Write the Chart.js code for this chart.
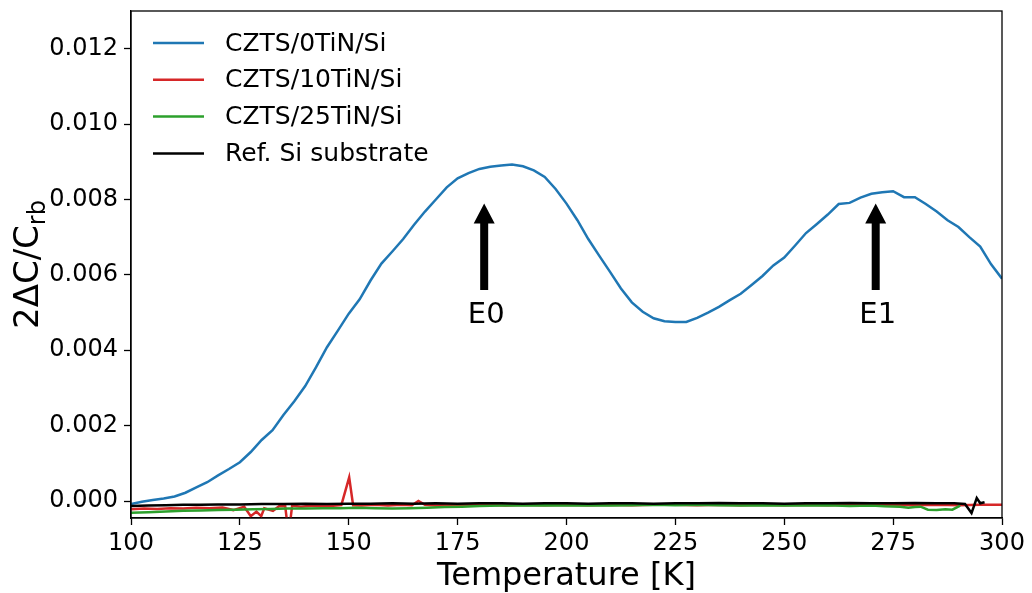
<!DOCTYPE html>
<html>
<head>
<meta charset="utf-8">
<script src="https://cdn.jsdelivr.net/npm/chart.js@4/dist/chart.umd.min.js"></script>
<style>
  html, body { margin: 0; padding: 0; background: #ffffff; }
  canvas { display: block; }
</style>
</head>
<body>
<canvas id="chart" width="1032" height="593"></canvas>
<script>
// Temperature grid (K) and 2ΔC/C_rb signal for the CZTS/0TiN/Si sample
const tempMain = [
  100, 102.5, 105, 107.5, 110, 112.5, 115, 117.5, 120, 122.5,
  125, 127.5, 130, 132.5, 135, 137.5, 140, 142.5, 145, 147.5,
  150, 152.5, 155, 157.5, 160, 162.5, 165, 167.5, 170, 172.5,
  175, 177.5, 180, 182.5, 185, 187.5, 190, 192.5, 195, 197.5,
  200, 202.5, 205, 207.5, 210, 212.5, 215, 217.5, 220, 222.5,
  225, 227.5, 230, 232.5, 235, 237.5, 240, 242.5, 245, 247.5,
  250, 252.5, 255, 257.5, 260, 262.5, 265, 267.5, 270, 272.5,
  275, 277.5, 280, 282.5, 285, 287.5, 290, 292.5, 295, 297.5, 300
];
const tin0 = [
  -0.00008, -0.00002, 0.00003, 0.00007, 0.00012, 0.00022, 0.00036, 0.00050, 0.00068, 0.00085,
  0.00103, 0.00130, 0.00162, 0.00188, 0.00228, 0.00265, 0.00305, 0.00355, 0.00408, 0.00452,
  0.00497, 0.00535, 0.00585, 0.00630, 0.00662, 0.00695, 0.00733, 0.00768, 0.00800, 0.00832,
  0.00856, 0.00870, 0.00881, 0.00887, 0.00890, 0.00893, 0.00888, 0.00877, 0.00860, 0.00828,
  0.00789, 0.00745, 0.00695, 0.00651, 0.00608, 0.00564, 0.00527, 0.00502, 0.00485, 0.00477,
  0.00475, 0.00475, 0.00486, 0.00500, 0.00515, 0.00533, 0.00550, 0.00573, 0.00597, 0.00625,
  0.00646, 0.00678, 0.00711, 0.00735, 0.00760, 0.00788, 0.00791, 0.00805, 0.00815, 0.00819,
  0.00822, 0.00806, 0.00806, 0.00788, 0.00768, 0.00745, 0.00727, 0.00700, 0.00675, 0.00628, 0.00590
];

// CZTS/10TiN/Si
const temp10 = [
  100, 103, 106, 109, 112, 115, 118, 121, 123.5, 126,
  127.5, 128.8, 129.9, 130.6, 132.6, 134, 135.4, 136.2, 137, 139,
  142, 145, 148.3, 150.1, 151, 153, 156, 159, 162, 164.5,
  166, 167.5, 170, 174, 178, 182, 186, 190, 195, 200,
  205, 210, 215, 220, 225, 230, 235, 240, 245, 250,
  255, 260, 265, 270, 275, 280, 285, 290, 295, 300
];
const tin10 = [
  -0.00022, -0.00020, -0.00021, -0.00019, -0.00020, -0.00018, -0.00019, -0.00017, -0.00024, -0.00015,
  -0.00040, -0.00028, -0.00040, -0.00019, -0.00026, -0.00014, -0.00013, -0.00090, -0.00012, -0.00015,
  -0.00012, -0.00014, -0.00011, 0.00063, -0.00011, -0.00012, -0.00010, -0.00012, -0.00010, -0.00011,
  0.00000, -0.00010, -0.00012, -0.00010, -0.00011, -0.00010, -0.00012, -0.00010, -0.00011, -0.00010,
  -0.00011, -0.00010, -0.00011, -0.00010, -0.00010, -0.00011, -0.00010, -0.00011, -0.00010, -0.00011,
  -0.00010, -0.00011, -0.00010, -0.00009, -0.00010, -0.00011, -0.00010, -0.00011, -0.00010, -0.00010
];

// CZTS/25TiN/Si
const temp25 = [
  100, 104, 108, 112, 116, 120, 124, 128, 132, 136,
  140, 144, 148, 152, 156, 160, 164, 168, 172, 176,
  180, 185, 190, 195, 200, 205, 210, 215, 220, 225,
  230, 235, 240, 245, 250, 255, 260, 265, 270, 273,
  276.6, 278.5, 280, 281.3, 283, 285, 287, 288.6, 290.4
];
const tin25 = [
  -0.00031, -0.00030, -0.00028, -0.00026, -0.00025, -0.00024, -0.00023, -0.00022, -0.00021, -0.00020,
  -0.00020, -0.00019, -0.00019, -0.00018, -0.00019, -0.00020, -0.00019, -0.00018, -0.00016, -0.00015,
  -0.00013, -0.00012, -0.00012, -0.00011, -0.00012, -0.00011, -0.00012, -0.00011, -0.00010, -0.00011,
  -0.00010, -0.00011, -0.00012, -0.00011, -0.00012, -0.00012, -0.00011, -0.00013, -0.00012, -0.00014,
  -0.00015, -0.00018, -0.00016, -0.00015, -0.00023, -0.00024, -0.00022, -0.00023, -0.00012
];

// Reference Si substrate
const tempRef = [
  100, 104, 108, 112, 116, 120, 125, 130, 135, 140,
  145, 150, 155, 160, 165, 170, 175, 180, 185, 190,
  195, 200, 205, 210, 215, 220, 225, 230, 235, 240,
  245, 250, 255, 260, 265, 270, 275, 280, 285, 289,
  291.5, 293, 294.2, 295, 296
];
const refSi = [
  -0.00013, -0.00012, -0.00011, -0.00010, -0.00010, -0.00009, -0.00009, -0.00008, -0.00008, -0.00007,
  -0.00008, -0.00007, -0.00007, -0.00006, -0.00007, -0.00006, -0.00007, -0.00006, -0.00006, -0.00007,
  -0.00006, -0.00006, -0.00007, -0.00006, -0.00006, -0.00007, -0.00006, -0.00006, -0.00005, -0.00006,
  -0.00006, -0.00007, -0.00006, -0.00006, -0.00005, -0.00006, -0.00006, -0.00005, -0.00006, -0.00006,
  -0.00008, -0.00032, 0.00008, -0.00006, -0.00003
];

const seriesNames = ['CZTS/0TiN/Si', 'CZTS/10TiN/Si', 'CZTS/25TiN/Si', 'Ref. Si substrate'];
const seriesColors = ['#1f77b4', '#d62728', '#2ca02c', '#000000'];

const xTicks = [100, 125, 150, 175, 200, 225, 250, 275, 300];
const yTicks = [0, 0.002, 0.004, 0.006, 0.008, 0.010, 0.012];

// Peak markers
const peakNames = ['E0', 'E1'];
const peakTemps = [181.1, 271.0];

const FONT = "'DejaVu Sans', 'Liberation Sans', sans-serif";
const LINE_W = 2.5;

function pairs(ts, vs) {
  return ts.map((t, i) => ({ x: t, y: vs[i] }));
}

const datasets = [
  { data: pairs(tempMain, tin0), order: 3 },
  { data: pairs(temp10, tin10), order: 2 },
  { data: pairs(temp25, tin25), order: 1 },
  { data: pairs(tempRef, refSi), order: 0 }
].map((d, i) => Object.assign(d, {
  label: seriesNames[i],
  borderColor: seriesColors[i],
  backgroundColor: seriesColors[i],
  borderWidth: LINE_W,
  pointRadius: 0,
  tension: 0,
  fill: false
}));

// Frame, arrows, labels, legend and axis titles
const decorations = {
  id: 'decorations',
  afterDatasetsDraw(chart) {
    const ctx = chart.ctx;
    const xs = chart.scales.x, ys = chart.scales.y;

    // peak arrows with labels underneath
    ctx.save();
    ctx.fillStyle = '#000';
    peakTemps.forEach((t, i) => {
      const px = xs.getPixelForValue(t);
      const tip = ys.getPixelForValue(0.00789);
      const tail = ys.getPixelForValue(0.00560);
      const headLen = 20, headHalf = 10.5, shaftHalf = 4;
      ctx.beginPath();
      ctx.moveTo(px - shaftHalf, tail);
      ctx.lineTo(px - shaftHalf, tip + headLen);
      ctx.lineTo(px - headHalf, tip + headLen);
      ctx.lineTo(px, tip);
      ctx.lineTo(px + headHalf, tip + headLen);
      ctx.lineTo(px + shaftHalf, tip + headLen);
      ctx.lineTo(px + shaftHalf, tail);
      ctx.closePath();
      ctx.fill();
      ctx.font = '29px ' + FONT;
      ctx.textAlign = 'center';
      ctx.textBaseline = 'alphabetic';
      ctx.fillText(peakNames[i], px + 2, ys.getPixelForValue(0.00472));
    });
    ctx.restore();
  },
  afterDraw(chart) {
    const ctx = chart.ctx;
    const a = chart.chartArea;

    // axes frame
    ctx.save();
    ctx.strokeStyle = '#000';
    ctx.lineWidth = 1.3;
    ctx.strokeRect(a.left, a.top, a.right - a.left, a.bottom - a.top);
    ctx.restore();

    // legend
    ctx.save();
    ctx.font = '25px ' + FONT;
    ctx.textBaseline = 'middle';
    ctx.textAlign = 'left';
    seriesNames.forEach((name, i) => {
      const y = a.top + 32 + i * 36.8;
      ctx.strokeStyle = seriesColors[i];
      ctx.lineWidth = LINE_W;
      ctx.beginPath();
      ctx.moveTo(a.left + 22, y);
      ctx.lineTo(a.left + 73, y);
      ctx.stroke();
      ctx.fillStyle = '#000';
      ctx.fillText(name, a.left + 94, y + 1);
    });
    ctx.restore();

    // x axis title
    ctx.save();
    ctx.font = '32px ' + FONT;
    ctx.fillStyle = '#000';
    ctx.textAlign = 'center';
    ctx.textBaseline = 'alphabetic';
    ctx.fillText('Temperature [K]', (a.left + a.right) / 2, 585);
    ctx.restore();

    // y axis title with subscript
    ctx.save();
    const main = '2ΔC/C', sub = 'rb';
    const mainFont = '34px ' + FONT, subFont = '24px ' + FONT;
    ctx.font = mainFont;
    const w1 = ctx.measureText(main).width;
    ctx.font = subFont;
    const w2 = ctx.measureText(sub).width;
    const total = w1 + w2;
    ctx.translate(38, (a.top + a.bottom) / 2);
    ctx.rotate(-Math.PI / 2);
    ctx.fillStyle = '#000';
    ctx.textAlign = 'left';
    ctx.textBaseline = 'alphabetic';
    ctx.font = mainFont;
    ctx.fillText(main, -total / 2, 0);
    ctx.font = subFont;
    ctx.fillText(sub, -total / 2 + w1, 7);
    ctx.restore();
  }
};

new Chart(document.getElementById('chart'), {
  type: 'line',
  data: { datasets },
  plugins: [decorations],
  options: {
    responsive: false,
    animation: false,
    layout: { padding: { top: 11, right: 30, bottom: 0, left: 0 } },
    plugins: { legend: { display: false }, tooltip: { enabled: false } },
    scales: {
      x: {
        type: 'linear',
        min: 100,
        max: 300,
        afterBuildTicks: s => { s.ticks = xTicks.map(v => ({ value: v })); },
        afterFit: s => { s.height = 75; s.paddingLeft = 0; s.paddingRight = 0; },
        grid: { drawOnChartArea: false, drawTicks: true, tickLength: 7, tickColor: '#000', tickWidth: 1.3 },
        border: { display: true, color: '#000', width: 1.3 },
        ticks: {
          color: '#000',
          font: { family: FONT, size: 24 },
          padding: 4,
          maxRotation: 0,
          autoSkip: false,
          callback: v => String(v)
        }
      },
      y: {
        type: 'linear',
        min: -0.00045,
        max: 0.013,
        afterBuildTicks: s => { s.ticks = yTicks.map(v => ({ value: v })); },
        afterFit: s => { s.width = 131; s.paddingTop = 0; s.paddingBottom = 0; },
        grid: { drawOnChartArea: false, drawTicks: true, tickLength: 7, tickColor: '#000', tickWidth: 1.3 },
        border: { display: true, color: '#000', width: 1.3 },
        ticks: {
          color: '#000',
          font: { family: FONT, size: 24 },
          padding: 6,
          autoSkip: false,
          callback: v => v.toFixed(3)
        }
      }
    }
  }
});
</script>
</body>
</html>
